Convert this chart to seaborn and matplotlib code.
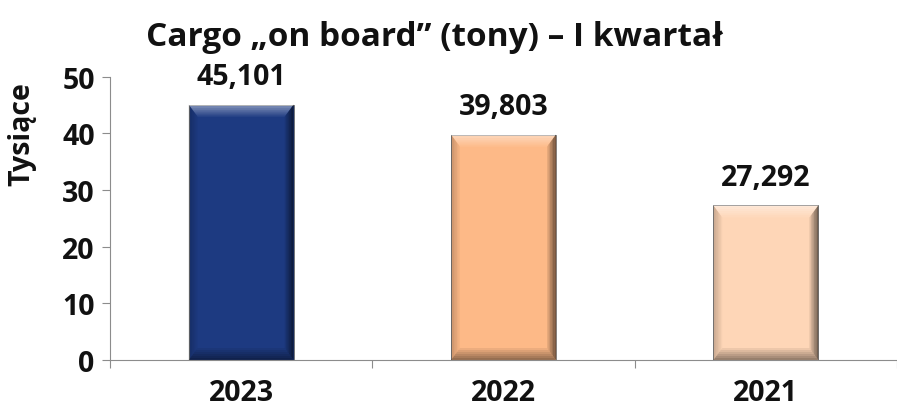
import matplotlib
matplotlib.use("Agg")
import matplotlib.pyplot as plt
from matplotlib.patches import Polygon
from matplotlib.ticker import FixedLocator
import seaborn as sns
import pandas as pd

# data (thousands of tonnes)
years = ["2023", "2022", "2021"]
values = [45.101, 39.803, 27.292]
labels = ["45,101", "39,803", "27,292"]
colors = ["#1d3a81", "#fdb987", "#fed6b7"]

sns.set_theme(style="white")
plt.rcParams['font.family'] = ['Open Sans', 'DejaVu Sans']
plt.rcParams['font.weight'] = 'bold'

df = pd.DataFrame({"year": years, "value": values})

fig = plt.figure(figsize=(8.97, 4.14), dpi=100)
ax = fig.add_axes([0.1226, 0.128, 0.8774, 0.684])

sns.barplot(data=df, x="year", y="value", hue="year", palette=colors,
            width=0.4, legend=False, saturation=1, ax=ax,
            edgecolor="#707070", linewidth=0.6)


def bevel(p, steps=6):
    # soft bevel: shaded bands along each edge, fading inward
    x0, y0 = p.get_x(), p.get_y()
    w, h = p.get_width(), p.get_height()
    dx = w * 0.085
    dy = 12 * 50 / 283
    x1, y1 = x0 + w, y0 + h
    for k in range(steps):
        a = k / steps
        b = (k + 1) / steps
        fade = 1 - a
        sides = [
            ([(x0 + a * dx, y1 - a * dy), (x1 - a * dx, y1 - a * dy),
              (x1 - b * dx, y1 - b * dy), (x0 + b * dx, y1 - b * dy)], "white", 0.45),
            ([(x1 - a * dx, y1 - a * dy), (x1 - a * dx, y0 + a * dy),
              (x1 - b * dx, y0 + b * dy), (x1 - b * dx, y1 - b * dy)], "black", 0.55),
            ([(x0 + a * dx, y0 + a * dy), (x1 - a * dx, y0 + a * dy),
              (x1 - b * dx, y0 + b * dy), (x0 + b * dx, y0 + b * dy)], "black", 0.4),
            ([(x0 + a * dx, y0 + a * dy), (x0 + a * dx, y1 - a * dy),
              (x0 + b * dx, y1 - b * dy), (x0 + b * dx, y0 + b * dy)], "black", 0.2),
        ]
        for pts, col, alp in sides:
            ax.add_patch(Polygon(pts, closed=True, facecolor=col,
                                 alpha=alp * fade, lw=0))


for p in list(ax.patches):
    bevel(p)

for i, v in enumerate(values):
    ax.annotate(labels[i], (i, v), xytext=(0, 10), textcoords="offset points",
                ha="center", va="bottom", fontsize=20.5, fontweight="bold",
                color="#111111")

ax.set_xlim(-0.5, 2.5)
ax.set_ylim(0, 50)
ax.set_yticks([0, 10, 20, 30, 40, 50])
ax.xaxis.set_minor_locator(FixedLocator([-0.5, 0.5, 1.5, 2.5]))

ax.tick_params(axis="y", which="major", length=6, width=0.8, color="#8c8c8c",
               labelsize=20.5, pad=5, labelcolor="#111111", left=True)
ax.tick_params(axis="x", which="major", length=0, labelsize=20.5, pad=13,
               labelcolor="#111111")
ax.tick_params(axis="x", which="minor", length=6, width=0.8, color="#8c8c8c",
               bottom=True)

for lab in ax.get_xticklabels() + ax.get_yticklabels():
    lab.set_fontweight("bold")

for side in ["top", "right"]:
    ax.spines[side].set_visible(False)
for side in ["left", "bottom"]:
    ax.spines[side].set_color("#8c8c8c")
    ax.spines[side].set_linewidth(0.8)

ax.set_xlabel("")
ax.set_ylabel("Tysiące", fontsize=20.5, fontweight="bold", color="#111111")
ax.yaxis.set_label_coords(-0.094, 0.80)
fig.suptitle("Cargo \u201eon board\u201d (tony) \u2013 I kwartał", x=0.485, y=0.91,
             va="center", fontsize=24, fontweight="bold", color="#111111")

fig.savefig("out.png", dpi=100)
